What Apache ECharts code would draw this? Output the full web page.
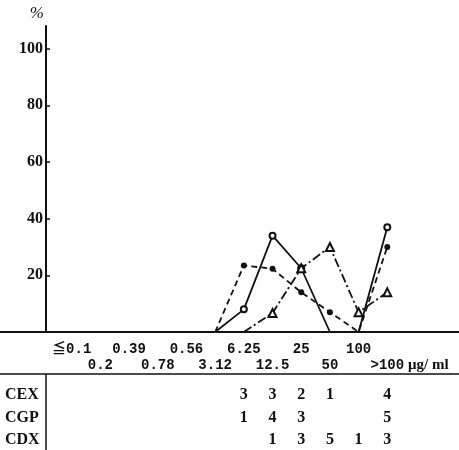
<!DOCTYPE html>
<html>
<head>
<meta charset="utf-8">
<script src="https://cdn.jsdelivr.net/npm/echarts@6/dist/echarts.min.js"></script>
<style>
  html, body { margin: 0; padding: 0; background: #fff; }
  #chart { width: 459px; height: 450px; }
</style>
</head>
<body>
<div id="chart"></div>
<script>
// MIC categories (ug/ml)
const categories = ['≦0.1', '0.2', '0.39', '0.78', '0.56', '3.12', '6.25', '12.5', '25', '50', '100', '>100'];

// % of strains per MIC, null = not plotted
const cgpPct = [null, null, null, null, null, 0, 8, 34, 22.5, 0, 0, 37];
const cexPct = [null, null, null, null, null, 0, 23.5, 22.3, 14, 7, 0, 30];
const cdxPct = [null, null, null, null, null, null, 0, 6.7, 22.5, 30, 7, 14];

// number of strains (table under the chart)
const cexCount = [null, null, null, null, null, null, 3, 3, 2, 1, null, 4];
const cgpCount = [null, null, null, null, null, null, 1, 4, 3, null, null, 5];
const cdxCount = [null, null, null, null, null, null, null, 1, 3, 5, 1, 3];

const PAD = 2; // empty slots so the axis line runs the full width
const axisData = ['', ''].concat(categories, ['', '']);

const ink = '#111';
const serif = '"Liberation Serif", "Times New Roman", serif';
const mono = '"Liberation Mono", "Noto Sans CJK JP", monospace';

function padded(arr) {
  const out = [];
  for (let i = 0; i < PAD; i++) out.push('-');
  arr.forEach(v => {
    if (v === null) out.push('-');
    else if (v === 0) out.push({ value: 0, symbol: 'none' });
    else out.push(v);
  });
  for (let i = 0; i < PAD; i++) out.push('-');
  return out;
}

function tableAxis(counts, offset) {
  return {
    type: 'category',
    data: axisData,
    position: 'bottom',
    offset: offset,
    axisLine: { show: false },
    axisTick: { show: false },
    axisLabel: {
      interval: 0,
      margin: 8,
      color: ink,
      fontFamily: serif,
      fontWeight: 'bold',
      fontSize: 16,
      formatter: (v, i) => {
        const c = counts[i - PAD];
        return c == null ? '' : String(c);
      }
    }
  };
}

const chart = echarts.init(document.getElementById('chart'));

const option = {
  backgroundColor: '#fff',
  animation: false,
  grid: { left: 0, right: 0, top: 26, bottom: 118, outerBoundsMode: 'none' },
  xAxis: [
    {
      type: 'category',
      data: axisData,
      boundaryGap: true,
      axisLine: { lineStyle: { color: ink, width: 1.8 } },
      axisTick: {
        alignWithLabel: true,
        length: 4,
        interval: (i, v) => v !== '',
        lineStyle: { color: ink, width: 1.5 }
      },
      axisLabel: {
        interval: 0,
        margin: 9,
        lineHeight: 16,
        formatter: (v, i) => {
          if (v === '') return '';
          return (i - PAD) % 2 === 0 ? '{t|' + v + '}' : '\n{t|' + v + '}';
        },
        rich: {
          t: { fontFamily: mono, fontWeight: 'bold', fontSize: 14, color: ink, lineHeight: 16 }
        }
      }
    },
    tableAxis(cexCount, 47),
    tableAxis(cgpCount, 70),
    tableAxis(cdxCount, 92)
  ],
  yAxis: {
    type: 'value',
    min: 0,
    max: 108,
    interval: 20,
    offset: -46,
    name: '%',
    nameLocation: 'end',
    nameGap: 4,
    nameTextStyle: { color: ink, fontFamily: serif, fontStyle: 'italic', fontSize: 17, align: 'right', padding: [0, 2, 0, 0] },
    splitLine: { show: false },
    axisLine: { show: true, lineStyle: { color: ink, width: 2 } },
    axisTick: { show: true, inside: true, length: 4, lineStyle: { color: ink, width: 1.5 } },
    axisLabel: {
      showMinLabel: false,
      showMaxLabel: false,
      margin: 3,
      color: ink,
      fontFamily: serif,
      fontWeight: 'bold',
      fontSize: 16
    }
  },
  series: [
    {
      name: 'CGP',
      type: 'line',
      data: padded(cgpPct),
      symbol: 'emptyCircle',
      symbolSize: 6,
      lineStyle: { color: ink, width: 1.8 },
      itemStyle: { color: ink, borderWidth: 1.5 }
    },
    {
      name: 'CEX',
      type: 'line',
      data: padded(cexPct),
      symbol: 'circle',
      symbolSize: 6,
      lineStyle: { color: ink, width: 1.8, type: [6, 4] },
      itemStyle: { color: ink }
    },
    {
      name: 'CDX',
      type: 'line',
      data: padded(cdxPct),
      symbol: 'emptyTriangle',
      symbolSize: 8,
      lineStyle: { color: ink, width: 1.8, type: [9, 3, 2, 3] },
      itemStyle: { color: ink, borderWidth: 1.5 }
    }
  ],
  graphic: [
    { type: 'line', shape: { x1: 0, y1: 374, x2: 459, y2: 374 }, style: { stroke: ink, lineWidth: 1.5 } },
    { type: 'line', shape: { x1: 46, y1: 374, x2: 46, y2: 450 }, style: { stroke: ink, lineWidth: 1.5 } },
    { type: 'text', left: 408, top: 358, style: { text: 'μg/ ml', fill: ink, font: 'bold 15px ' + serif } },
    { type: 'text', left: 5, top: 387, style: { text: 'CEX', fill: ink, font: 'bold 16px ' + serif } },
    { type: 'text', left: 5, top: 410, style: { text: 'CGP', fill: ink, font: 'bold 16px ' + serif } },
    { type: 'text', left: 5, top: 432, style: { text: 'CDX', fill: ink, font: 'bold 16px ' + serif } }
  ]
};

chart.setOption(option);
</script>
</body>
</html>
